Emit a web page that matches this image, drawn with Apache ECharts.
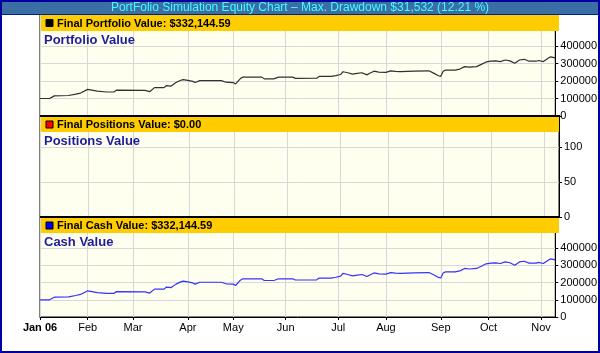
<!DOCTYPE html>
<html>
<head>
<meta charset="utf-8">
<script src="https://cdn.jsdelivr.net/npm/echarts@6/dist/echarts.min.js"></script>
<style>
html, body { margin: 0; padding: 0; background: #fff; }
#chart { width: 600px; height: 353px; }
</style>
</head>
<body>
<div id="chart"></div>
<script>
// trading days Jan 3 2006 .. Nov 2006
var dayCount = 217;
var monthIdx = [0, 20, 39, 62, 81, 103, 125, 145, 168, 188, 210];
var monthLbl = ["Jan 06", "Feb", "Mar", "Apr", "May", "Jun", "Jul", "Aug", "Sep", "Oct", "Nov"];

// cash value (trading day index -> value)
var dayIdx = [0, 4, 6, 12, 15, 17, 20, 24, 28, 31, 32, 44, 46, 48, 52, 53, 55, 57, 59, 60,
  62, 64, 65, 67, 76, 78, 81, 82, 84, 85, 93, 94, 98, 100, 106, 107, 116, 117, 122, 124,
  126, 127, 129, 131, 133, 135, 137, 138, 140, 142, 145, 147, 149, 151, 157, 163, 165, 167, 168, 169,
  170, 174, 176, 178, 180, 183, 185, 187, 189, 191, 193, 195, 197, 199, 201, 203, 205, 208, 209, 211,
  213, 214, 216];
var cashValues = [100000, 100000, 115000, 117000, 125000, 131000, 152000, 142000, 137000, 137000,
  148000, 146000, 139000, 162000, 162000, 174000, 171000, 191000, 204000, 208000,
  204000, 198000, 191000, 202000, 202000, 193000, 191000, 183000, 214000, 222000,
  222000, 212000, 212000, 222000, 222000, 215000, 216000, 226000, 226000, 231000,
  237000, 253000, 247000, 239000, 243000, 247000, 235000, 243000, 256000, 251000,
  249000, 258000, 255000, 253000, 256000, 258200, 245000, 230000, 226700, 256000,
  262000, 262000, 268000, 282000, 279000, 282000, 295000, 309000, 313000, 315000,
  311000, 320000, 315000, 301000, 320000, 324000, 313000, 313000, 317000, 311000,
  330000, 338000, 332145];
// no positions held at any time
var posIdx = [0, 216];
var posValues = [0, 0];

var days = [];
for (var i = 0; i < dayCount; i++) days.push(String(i));

function pairs(xs, ys) {
  return xs.map(function (x, k) { return [x, ys[k]]; });
}
// portfolio = cash + positions, positions are 0
var portfolioValues = cashValues.map(function (v) { return v + 0; });

var FONT = '"Liberation Sans", Arial, sans-serif';

function xAxisFor(g, showLabels) {
  return {
    gridIndex: g,
    type: 'category',
    data: days,
    boundaryGap: false,
    axisLine: { show: showLabels, lineStyle: { color: '#000', width: 1 } },
    axisTick: {
      show: showLabels, length: 3, lineStyle: { color: '#000' },
      interval: function (i) { return monthIdx.indexOf(i) >= 0; }
    },
    axisLabel: {
      show: showLabels, margin: 5, fontSize: 11, fontFamily: FONT, color: '#000',
      interval: function (i) { return monthIdx.indexOf(i) >= 0; },
      formatter: function (v, i) {
        var k = monthIdx.indexOf(Number(v));
        if (k < 0) return '';
        return k === 0 ? '{b|' + monthLbl[k] + '}' : monthLbl[k];
      },
      rich: { b: { fontWeight: 'bold', fontSize: 11, fontFamily: FONT, color: '#000' } }
    },
    splitLine: {
      show: true, lineStyle: { color: '#d8d8d8', width: 1 },
      interval: function (i) { return monthIdx.indexOf(i) >= 0; }
    }
  };
}

function yAxisFor(g, max, step, top) {
  return {
    gridIndex: g,
    type: 'value',
    position: 'right',
    min: 0,
    max: max,
    interval: step,
    axisLine: { show: true, lineStyle: { color: '#000', width: 1 } },
    axisTick: { show: true, length: 3, lineStyle: { color: '#000' } },
    axisLabel: {
      margin: 5, fontSize: 11, fontFamily: FONT, color: '#000',
      formatter: function (v) { return v > top ? '' : String(v); }
    },
    splitLine: { lineStyle: { color: '#d8d8d8', width: 1 } }
  };
}

function header(top, h, swatch, label, name) {
  return [
    { type: 'rect', z: 100, shape: { x: 41, y: top, width: 518, height: h }, style: { fill: '#ffcc00' } },
    { type: 'rect', z: 101, shape: { x: 46, y: top + h / 2 - 3.5, width: 7, height: 7 },
      style: { fill: swatch, stroke: '#000', lineWidth: 1 } },
    { type: 'text', z: 101, x: 57, y: top + h / 2 + 0.5,
      style: { text: label, font: 'bold 11px ' + FONT, fill: '#000', verticalAlign: 'middle' } },
    { type: 'text', z: 101, x: 44, y: top + h + 9,
      style: { text: name, font: 'bold 13px ' + FONT, fill: '#1c1c9c', verticalAlign: 'middle' } }
  ];
}

var graphics = [
  { type: 'rect', z: 100, shape: { x: 0, y: 0, width: 600, height: 14 }, style: { fill: '#3a6ea5' } },
  { type: 'line', z: 100, shape: { x1: 0, y1: 14.5, x2: 600, y2: 14.5 }, style: { stroke: '#00208a', lineWidth: 1 } },
  { type: 'text', z: 101, x: 300, y: 7.5,
    style: { text: 'PortFolio Simulation Equity Chart \u2013 Max. Drawdown $31,532 (12.21 %)',
      font: '12px ' + FONT, fill: '#40ffff', align: 'center', verticalAlign: 'middle' } },
  { type: 'line', z: 102, shape: { x1: 40, y1: 116, x2: 560, y2: 116 }, style: { stroke: '#000', lineWidth: 2 } },
  { type: 'line', z: 102, shape: { x1: 40, y1: 217, x2: 560, y2: 217 }, style: { stroke: '#000', lineWidth: 2 } },
  { type: 'rect', z: 110, shape: { x: 1, y: 1, width: 598, height: 351 },
    style: { fill: 'none', stroke: '#0000a0', lineWidth: 2 } }
].concat(
  header(15, 16, '#000000', 'Final Portfolio Value: $332,144.59', 'Portfolio Value'),
  header(117, 15, '#ff0000', 'Final Positions Value: $0.00', 'Positions Value'),
  header(218, 15, '#0000ff', 'Final Cash Value: $332,144.59', 'Cash Value')
);

var chart = echarts.init(document.getElementById('chart'), null, { renderer: 'canvas' });
chart.setOption({
  animation: false,
  backgroundColor: '#ffffff',
  grid: [
    { left: 40, right: 41, top: 15, height: 101, show: true, backgroundColor: '#fffff0', borderColor: '#000', borderWidth: 1 },
    { left: 40, right: 41, top: 116, height: 101, show: true, backgroundColor: '#fffff0', borderColor: '#000', borderWidth: 1 },
    { left: 40, right: 41, top: 217, height: 100, show: true, backgroundColor: '#fffff0', borderColor: '#000', borderWidth: 1 }
  ],
  xAxis: [xAxisFor(0, false), xAxisFor(1, false), xAxisFor(2, true)],
  yAxis: [
    yAxisFor(0, 577000, 100000, 400000),
    yAxisFor(1, 144.3, 50, 100),
    yAxisFor(2, 581000, 100000, 400000)
  ],
  series: [
    { type: 'line', xAxisIndex: 0, yAxisIndex: 0, showSymbol: false, data: pairs(dayIdx, portfolioValues),
      lineStyle: { color: '#303030', width: 1.2 } },
    { type: 'line', xAxisIndex: 1, yAxisIndex: 1, showSymbol: false, data: pairs(posIdx, posValues),
      lineStyle: { color: '#ff0000', width: 1 } },
    { type: 'line', xAxisIndex: 2, yAxisIndex: 2, showSymbol: false, data: pairs(dayIdx, cashValues),
      lineStyle: { color: '#3333ff', width: 1.2 } }
  ],
  graphic: graphics
});
</script>
</body>
</html>
